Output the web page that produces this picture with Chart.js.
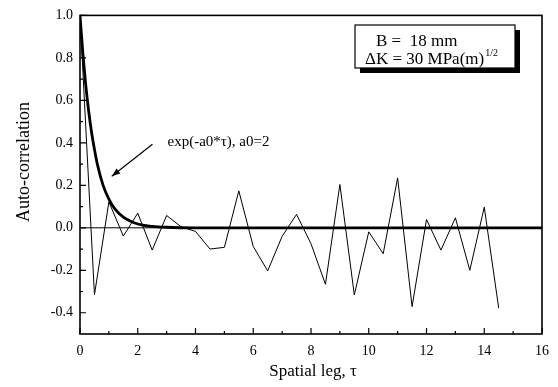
<!DOCTYPE html>
<html>
<head>
<meta charset="utf-8">
<script src="https://cdn.jsdelivr.net/npm/chart.js@4/dist/chart.umd.min.js"></script>
<style>
  html,body{margin:0;padding:0;background:#fff;}
  #wrap{width:558px;height:387px;position:relative;}
</style>
</head>
<body>
<div id="wrap"><canvas id="c" width="558" height="387"></canvas></div>
<script>
// ---- data ----
const lagTau = [0,0.5,1,1.5,2,2.5,3,3.5,4,4.5,5,5.5,6,6.5,7,7.5,8,8.5,9,9.5,10,10.5,11,11.5,12,12.5,13,13.5,14,14.5];
const autoCorr = [1.0,-0.316,0.122,-0.039,0.069,-0.105,0.058,0.005,-0.017,-0.100,-0.092,0.174,-0.088,-0.203,-0.040,0.063,-0.075,-0.266,0.204,-0.316,-0.019,-0.122,0.235,-0.371,0.039,-0.105,0.047,-0.200,0.097,-0.378];
const expTau = [0,0.1,0.2,0.3,0.4,0.5,0.6,0.8,1.0,1.2,1.5,2.0,2.5,3.0,4.0,16];
const expVal = [1.0,0.82,0.67,0.55,0.45,0.37,0.30,0.20,0.135,0.09,0.05,0.018,0.007,0.0025,0.0,0.0];
const xTicks = [0,2,4,6,8,10,12,14,16];
const xMinor = [1,3,5,7,9,11,13,15];
const yTicks = [-0.4,-0.2,0.0,0.2,0.4,0.6,0.8,1.0];
const yMinor = [-0.3,-0.1,0.1,0.3,0.5,0.7,0.9];
const xTitle = "Spatial leg, \u03C4";
const yTitle = "Auto-correlation";
const expLabel = "exp(-a0*\u03C4), a0=2";
const boxLine1 = "B =  18 mm";
const boxLine2 = "\u0394K = 30 MPa(m)";
const boxSup = "1/2";

const SERIF = "'Liberation Serif','DejaVu Serif',serif";

const decor = {
  id: 'decor',
  afterDraw(chart) {
    const {ctx, chartArea: a, scales: {x, y}} = chart;
    ctx.save();
    ctx.strokeStyle = '#000';
    ctx.fillStyle = '#000';
    // zero reference line
    ctx.lineWidth = 1;
    ctx.beginPath();
    ctx.moveTo(a.left, y.getPixelForValue(0));
    ctx.lineTo(a.right, y.getPixelForValue(0));
    ctx.stroke();
    // frame
    ctx.lineWidth = 1.6;
    ctx.strokeRect(a.left, a.top, a.right - a.left, a.bottom - a.top);
    // ticks (inside)
    ctx.lineWidth = 1.2;
    ctx.beginPath();
    xTicks.forEach(v => { const p = x.getPixelForValue(v); ctx.moveTo(p, a.bottom); ctx.lineTo(p, a.bottom - 6); });
    xMinor.forEach(v => { const p = x.getPixelForValue(v); ctx.moveTo(p, a.bottom); ctx.lineTo(p, a.bottom - 3); });
    yTicks.forEach(v => { const p = y.getPixelForValue(v); ctx.moveTo(a.left, p); ctx.lineTo(a.left + 6, p); });
    yMinor.forEach(v => { const p = y.getPixelForValue(v); ctx.moveTo(a.left, p); ctx.lineTo(a.left + 3, p); });
    ctx.stroke();
    // axis titles
    ctx.font = "17px " + SERIF;
    ctx.textAlign = 'center';
    ctx.textBaseline = 'middle';
    ctx.fillText(xTitle, (a.left + a.right) / 2 + 2, 372);
    ctx.save();
    ctx.translate(24, 162);
    ctx.rotate(-Math.PI / 2);
    ctx.font = "18px " + SERIF;
    ctx.fillText(yTitle, 0, 0);
    ctx.restore();
    // annotation
    ctx.font = "15px " + SERIF;
    ctx.textAlign = 'left';
    ctx.textBaseline = 'alphabetic';
    ctx.fillText(expLabel, x.getPixelForValue(3.03), y.getPixelForValue(0.384));
    const x1 = x.getPixelForValue(2.51), y1 = y.getPixelForValue(0.393);
    const x2 = x.getPixelForValue(1.10), y2 = y.getPixelForValue(0.243);
    ctx.lineWidth = 1.2;
    ctx.beginPath(); ctx.moveTo(x1, y1); ctx.lineTo(x2, y2); ctx.stroke();
    const ang = Math.atan2(y2 - y1, x2 - x1);
    ctx.beginPath();
    ctx.moveTo(x2, y2);
    ctx.lineTo(x2 - 9 * Math.cos(ang - 0.35), y2 - 9 * Math.sin(ang - 0.35));
    ctx.lineTo(x2 - 9 * Math.cos(ang + 0.35), y2 - 9 * Math.sin(ang + 0.35));
    ctx.closePath(); ctx.fill();
    // legend box with shadow
    const bx = 355, by = 25, bw = 160, bh = 43;
    ctx.fillRect(bx + 5, by + 5, bw, bh);
    ctx.fillStyle = '#fff';
    ctx.fillRect(bx, by, bw, bh);
    ctx.fillStyle = '#000';
    ctx.lineWidth = 1.2;
    ctx.strokeRect(bx, by, bw, bh);
    ctx.font = "17px " + SERIF;
    ctx.fillText(boxLine1, 376, 46);
    ctx.fillText(boxLine2, 365, 64);
    const w2 = ctx.measureText(boxLine2).width;
    ctx.font = "10px " + SERIF;
    ctx.fillText(boxSup, 365 + w2 + 1, 56);
    ctx.restore();
  }
};

new Chart(document.getElementById('c'), {
  type: 'line',
  data: {
    datasets: [
      {
        data: lagTau.map((t, i) => ({x: t, y: autoCorr[i]})),
        borderColor: '#000', borderWidth: 1, pointRadius: 0, tension: 0
      },
      {
        data: expTau.map((t, i) => ({x: t, y: expVal[i]})),
        borderColor: '#000', borderWidth: 2.8, pointRadius: 0,
        cubicInterpolationMode: 'monotone'
      }
    ]
  },
  options: {
    responsive: false,
    animation: false,
    events: [],
    layout: {padding: {top: 13, right: 13, left: 0, bottom: 0}},
    plugins: {legend: {display: false}, tooltip: {enabled: false}},
    scales: {
      x: {
        type: 'linear', min: 0, max: 16,
        grid: {display: false, drawTicks: false},
        border: {display: false},
        afterBuildTicks: s => { s.ticks = xTicks.map(v => ({value: v})); },
        afterFit: s => { s.height = 53; },
        ticks: {color: '#000', padding: 9, font: {family: SERIF, size: 14}, callback: v => String(v), maxRotation: 0, autoSkip: false}
      },
      y: {
        type: 'linear', min: -0.5, max: 1.0,
        grid: {display: false, drawTicks: false},
        border: {display: false},
        afterBuildTicks: s => { s.ticks = yTicks.map(v => ({value: v})); },
        afterFit: s => { s.width = 80; },
        ticks: {color: '#000', padding: 7, font: {family: SERIF, size: 14}, callback: v => Number(v).toFixed(1), autoSkip: false}
      }
    }
  },
  plugins: [decor]
});
</script>
</body>
</html>
